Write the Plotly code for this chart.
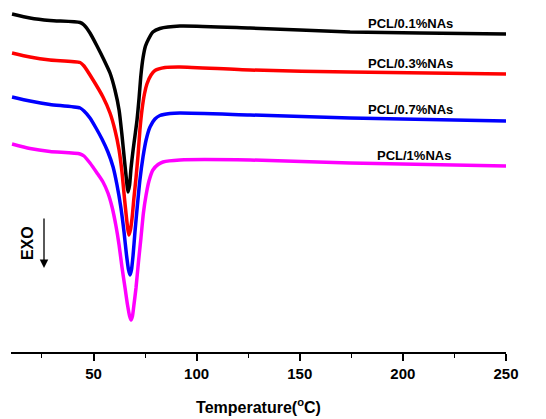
import plotly.graph_objects as go

# Temperature (°C) and heat flow (a.u., curves offset)
t_01 = [10.5, 19.2, 28.9, 43.5, 45.4, 48.3, 51.7, 55.1, 58.0, 60.4, 62.4, 63.8, 65.0, 66.0, 66.7,
        67.5, 68.2, 69.2, 70.1, 71.1, 72.1, 73.0, 74.0, 75.2, 76.7, 78.8, 82.2, 91.9,
        125.9, 174.4, 208.3, 250]
hf_01 = [33.8, 33.4, 33.15, 32.95, 32.7, 31.9, 30.6, 29.2, 27.9, 26.2, 24.2, 21.7, 19.2, 17.2, 16.0,
         16.7, 18.4, 20.2, 21.6, 23.2, 25.4, 27.7, 29.4, 30.6, 31.3, 32.0, 32.35, 32.6,
         32.4, 32.0, 31.9, 31.8]

t_03 = [10.5, 19.2, 28.9, 43.5, 45.4, 49.8, 54.6, 58.0, 60.4, 62.4, 63.8, 65.0, 66.0, 66.7, 67.2,
        67.9, 68.7, 69.6, 70.6, 71.6, 72.5, 73.5, 74.7, 75.9, 77.9, 79.8, 84.7, 91.9,
        125.9, 174.4, 250]
hf_03 = [29.9, 29.5, 29.2, 28.95, 28.6, 27.2, 25.5, 23.9, 22.2, 20.2, 18.0, 15.4, 13.4, 12.2, 11.7,
         12.2, 13.4, 15.4, 17.4, 19.7, 22.2, 24.2, 25.8, 26.8, 27.7, 28.15, 28.45, 28.5,
         28.2, 28.0, 27.8]

t_07 = [10.5, 19.2, 28.9, 43.5, 45.4, 48.3, 51.2, 54.1, 57.0, 59.5, 61.4, 63.3, 64.8, 66.0, 67.0, 67.7,
        68.4, 69.2, 70.1, 71.3, 72.5, 74.0, 75.5, 77.4, 79.8, 82.2, 87.1, 91.9,
        125.9, 174.4, 250]
hf_07 = [25.5, 25.1, 24.75, 24.4, 24.1, 23.4, 22.4, 21.3, 20.0, 18.5, 16.7, 14.4, 12.0, 9.7, 8.2, 7.7,
         8.2, 9.7, 12.0, 14.7, 17.2, 19.5, 21.2, 22.5, 23.3, 23.65, 23.85, 23.9,
         23.7, 23.4, 23.1]

t_1 = [10.5, 19.2, 28.9, 43.5, 45.4, 48.3, 51.7, 54.6, 57.0, 59.0, 60.9, 62.4, 63.8, 65.3, 66.5, 67.5, 68.2,
       68.9, 69.6, 70.6, 71.8, 73.0, 74.2, 75.5, 76.9, 78.8, 81.3, 83.7, 91.9,
       125.9, 174.4, 250]
hf_1 = [20.8, 20.35, 20.05, 19.8, 19.6, 18.9, 17.9, 17.0, 15.9, 14.5, 12.6, 10.7, 8.5, 6.4, 4.7, 3.6, 3.2,
        3.6, 4.7, 6.4, 9.0, 11.4, 13.9, 15.7, 17.1, 18.2, 18.75, 19.0, 19.2,
        19.2, 18.9, 18.6]

series = [
    ("PCL/0.1%NAs", t_01, hf_01, "#000000", 32.9),
    ("PCL/0.3%NAs", t_03, hf_03, "#FF0000", 28.9),
    ("PCL/0.7%NAs", t_07, hf_07, "#0000FF", 24.3),
    ("PCL/1%NAs", t_1, hf_1, "#FF00FF", 19.7),
]
label_x = [203.5, 203.5, 203.9, 205.6]

tick_vals = [50, 100, 150, 200, 250]
tick_text = ["50", "100", "150", "200", "250"]

fig = go.Figure()
for (name, t, hf, col, ly) in series:
    fig.add_trace(go.Scatter(x=t, y=hf, mode="lines", name=name,
                             line=dict(color=col, width=3.5, shape="spline", smoothing=0.6)))

font_b = dict(family="Liberation Sans, Arial, sans-serif", color="#000000")
for (name, t, hf, col, ly), lx in zip(series, label_x):
    fig.add_annotation(x=lx, y=ly, text="<b>%s</b>" % name, showarrow=False,
                       font=dict(size=13, **font_b), xanchor="center", yanchor="middle")

fig.add_annotation(x=17.8, y=10.9, text="<b>EXO</b>", textangle=-90, showarrow=False,
                   font=dict(size=16, **font_b))
fig.add_annotation(x=26.0, y=8.4, ax=26.0, ay=13.5, xref="x", yref="y", axref="x", ayref="y",
                   text="", showarrow=True, arrowhead=2, arrowsize=1.3, arrowwidth=1.3,
                   arrowcolor="#000000")

fig.update_layout(
    width=546, height=419,
    margin=dict(l=11, r=40, t=5, b=67),
    paper_bgcolor="white", plot_bgcolor="white",
    showlegend=False,
    xaxis=dict(range=[10, 250], showline=True, linecolor="#000000", linewidth=1.5,
               ticks="outside", ticklen=7, tickwidth=1.5, tickcolor="#000000",
               tickvals=tick_vals, ticktext=["<b>%s</b>" % s for s in tick_text],
               tickfont=dict(size=15, **font_b), showgrid=False, zeroline=False,
               minor=dict(tickvals=[25, 75, 125, 175, 225], ticks="outside", ticklen=4,
                          tickwidth=1.2, tickcolor="#000000", showgrid=False),
               title=dict(text="<b>Temperature(<sup>o</sup>C)</b>", font=dict(size=16, **font_b),
                          standoff=21)),
    yaxis=dict(range=[0, 34.7], visible=False),
)

fig.write_html("out.html", config={"displayModeBar": False},
               post_script="document.body.style.margin='0px';")
